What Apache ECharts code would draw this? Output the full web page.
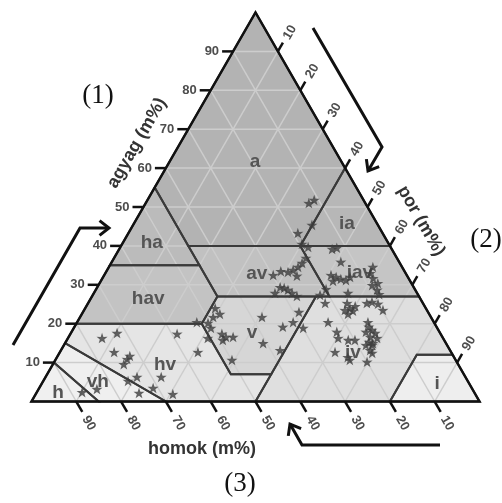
<!DOCTYPE html>
<html>
<head>
<meta charset="utf-8">
<script src="https://cdn.jsdelivr.net/npm/echarts@6/dist/echarts.min.js"></script>
<style>
html,body{margin:0;padding:0;background:#fff}
#chart{width:502px;height:503px}
</style>
</head>
<body>
<div id="chart"></div>
<script>
// textúraosztályok (USDA határok), csúcsok: [agyag, por]
const classNames = ['a', 'ia', 'ha', 'av', 'iav', 'hav', 'v', 'iv', 'i', 'hv', 'vh', 'h'];
const classPolys = [
  [[60, 40], [100, 0], [55, 0], [40, 15], [40, 40]],
  [[60, 40], [40, 40], [40, 60]],
  [[55, 0], [35, 0], [35, 20]],
  [[40, 15], [40, 40], [27, 53], [27, 28]],
  [[40, 40], [40, 60], [27, 73], [27, 53]],
  [[35, 0], [35, 20], [27, 28], [20, 28], [20, 0]],
  [[27, 28], [27, 50], [7, 50], [7, 41], [20, 28]],
  [[27, 50], [27, 73], [12, 88], [12, 80], [0, 80], [0, 50]],
  [[12, 80], [12, 88], [0, 100], [0, 80]],
  [[20, 0], [20, 28], [7, 41], [7, 50], [0, 50], [0, 30], [15, 0]],
  [[15, 0], [0, 30], [0, 15], [10, 0]],
  [[10, 0], [0, 15], [0, 0]]
];
const classLabelAt = [
  [61.6, 19.1], [45.6, 47.6], [40.7, 6.5], [32.8, 33.9], [33.0, 56.8], [26.3, 12.9],
  [17.6, 40.4], [12.5, 65.5], [4.5, 88.3], [9.4, 25.1], [5.0, 12.3], [2.2, 4.8]
];
const tickValues = [10, 20, 30, 40, 50, 60, 70, 80, 90];

// minták: agyag (m%) és por (m%), homok = 100 - agyag - por
const starClay = [
  51.0, 51.8, 45.4, 43.3, 40.5, 39.7, 39.2, 39.5, 35.9,
  32.5, 33.5, 33.3, 33.8, 34.6, 35.6, 32.3, 36.9,
  27.9, 29.4, 29.2, 28.7, 27.9, 27.1,
  32.5, 32.0, 31.5, 31.2, 32.0, 31.0, 33.0, 31.7, 29.9, 30.4, 28.7, 27.6, 34.6, 28.9, 27.4, 27.9,
  25.3, 23.5, 24.0, 23.3, 22.5, 24.5, 25.3, 25.6, 25.1, 23.5, 25.3, 20.4, 18.9,
  17.9, 16.3, 15.8, 15.8, 12.7, 11.4, 10.7, 10.2,
  20.4, 19.2, 17.9, 18.4, 17.6, 16.6, 16.3, 15.3, 15.0, 13.2, 12.5, 14.5, 14.5,
  24.0, 22.5, 21.7, 20.4, 20.2, 18.9, 17.4, 16.6, 16.6, 15.8, 16.3, 12.7, 10.7,
  21.7, 19.2, 15.0, 13.2, 20.4, 23.0,
  16.3, 17.6, 12.7, 10.9, 11.7, 9.6, 17.4, 6.3, 6.3, 3.5, 5.3, 2.2, 1.9, 3.2, 2.4
];
const starSilt = [
  36.4, 37.2, 39.9, 37.8, 40.1, 41.9, 47.5, 48.4, 51.1,
  37.7, 38.9, 40.6, 41.5, 42.2, 42.6, 43.1, 42.8,
  40.4, 40.8, 41.8, 42.9, 44.2, 45.7,
  50.6, 52.0, 53.3, 54.6, 55.1, 51.8, 59.1, 60.4, 61.1, 62.1, 62.8, 63.8, 58.9, 51.3, 50.7, 56.7,
  57.8, 58.2, 59.1, 60.1, 59.4, 60.0, 62.2, 63.2, 64.8, 66.7, 52.9, 56.0, 51.2,
  59.2, 60.3, 62.8, 64.3, 61.4, 64.9, 65.7, 69.8,
  64.9, 65.7, 65.7, 66.8, 67.9, 67.3, 69.0, 67.7, 68.7, 69.0, 69.8, 67.4, 68.8,
  29.0, 30.8, 29.7, 26.7, 29.3, 30.6, 33.8, 35.1, 36.7, 34.8, 31.2, 30.8, 39.4,
  40.6, 46.5, 44.2, 48.9, 48.2, 48.2,
  7.6, 10.3, 12.1, 15.9, 16.1, 15.8, 23.8, 20.4, 25.8, 25.4, 18.9, 22.9, 30.6, 13.0, 10.1
];

const classColors = ['#b3b3b3', '#b7b7b7', '#bbbbbb', '#c1c1c1', '#c5c5c5', '#c3c3c3',
  '#d6d6d6', '#dfdfdf', '#eeeeee', '#e5e5e5', '#efefef', '#f0f0f0'];

// háromszög helye a képen (px)
const OX = 31.5, OY = 401.5, SX = 4.48, SY = 3.89;
const W = 502, H = 503;

function tern(clay, silt) {
  return [silt + clay / 2, clay];
}

const chart = echarts.init(document.getElementById('chart'));

const sansBold = 'bold 13px "Liberation Sans", Arial, sans-serif';
const titleFont = 'bold 18px "Liberation Sans", Arial, sans-serif';
const serifFont = '27px "Liberation Serif", "Times New Roman", serif';
const tickColor = '#4d4d4d';
const D60 = [0.5, 0.866];

function seg(p, q, color, width) {
  return {type: 'line', shape: {x1: p[0], y1: p[1], x2: q[0], y2: q[1]},
    style: {stroke: color, lineWidth: width, lineCap: 'butt'}};
}
function txt(x, y, text, font, fill, rot, align) {
  return {type: 'text', x: x, y: y, rotation: rot || 0,
    style: {text: text, font: font, fill: fill, align: align || 'center', verticalAlign: 'middle'}};
}

function arrowEls(pts) {
  const n = pts.length;
  const t = pts[n - 1], s = pts[n - 2];
  let dx = t[0] - s[0], dy = t[1] - s[1];
  const len = Math.sqrt(dx * dx + dy * dy);
  dx /= len; dy /= len;
  const a = 38 * Math.PI / 180, L = 12;
  const arm = function (sign) {
    const c = Math.cos(sign * a), sn = Math.sin(sign * a);
    const rx = dx * c - dy * sn, ry = dx * sn + dy * c;
    return [t[0] - rx * L, t[1] - ry * L];
  };
  return [
    {type: 'polyline', shape: {points: pts}, style: {stroke: '#111', lineWidth: 3, fill: null, lineJoin: 'miter'}},
    {type: 'polyline', shape: {points: [arm(1), t, arm(-1)]}, style: {stroke: '#111', lineWidth: 3, fill: null, lineJoin: 'miter'}}
  ];
}

const option = {
  animation: false,
  grid: {left: 0, right: 0, top: 0, bottom: 0},
  xAxis: {type: 'value', min: -OX / SX, max: (W - OX) / SX, show: false},
  yAxis: {type: 'value', min: -(H - OY) / SY, max: OY / SY, show: false},
  graphic: [
    ...arrowEls([[13, 345], [80, 228], [109, 228]]),
    ...arrowEls([[313, 28], [382, 147], [368, 171]]),
    ...arrowEls([[440, 445], [302, 445], [290, 424]]),
    txt(137, 143, 'agyag (m%)', titleFont, '#333', Math.PI / 3),
    txt(421, 221, 'por (m%)', titleFont, '#333', -Math.PI / 3),
    txt(202, 449, 'homok (m%)', titleFont, '#333', 0),
    txt(98, 96, '(1)', serifFont, '#111', 0),
    txt(486, 240, '(2)', serifFont, '#111', 0),
    txt(240, 484, '(3)', serifFont, '#111', 0)
  ].map(function (e) { e.z = 100; return e; }),
  series: [
    {
      // osztályok kitöltése
      type: 'custom', z: 1, silent: true, clip: false,
      data: classNames.map(function () { return [0, 0]; }),
      renderItem: function (params, api) {
        const pts = classPolys[params.dataIndex].map(function (p) { return api.coord(tern(p[0], p[1])); });
        return {type: 'polygon', shape: {points: pts}, style: {fill: classColors[params.dataIndex]}};
      }
    },
    {
      // rácsvonalak
      type: 'custom', z: 2, silent: true, clip: false,
      data: tickValues.map(function () { return [0, 0]; }),
      renderItem: function (params, api) {
        const k = tickValues[params.dataIndex];
        const P = function (c, s) { return api.coord(tern(c, s)); };
        const col = '#cdcdcd';
        return {type: 'group', children: [
          seg(P(k, 0), P(k, 100 - k), col, 1.5),
          seg(P(0, k), P(100 - k, k), col, 1.5),
          seg(P(0, 100 - k), P(100 - k, 0), col, 1.5)
        ]};
      }
    },
    {
      // osztályhatárok
      type: 'custom', z: 3, silent: true, clip: false,
      data: classNames.map(function () { return [0, 0]; }),
      renderItem: function (params, api) {
        const pts = classPolys[params.dataIndex].map(function (p) { return api.coord(tern(p[0], p[1])); });
        return {type: 'polygon', shape: {points: pts}, style: {fill: null, stroke: '#3a3a3a', lineWidth: 2}};
      }
    },
    {
      // keret
      type: 'custom', z: 4, silent: true, clip: false,
      data: [[0, 0]],
      renderItem: function (params, api) {
        const pts = [[0, 0], [0, 100], [100, 0]].map(function (p) { return api.coord(tern(p[0], p[1])); });
        return {type: 'polygon', shape: {points: pts}, style: {fill: null, stroke: '#111', lineWidth: 2.5, lineJoin: 'miter'}};
      }
    },
    {
      // tengelyjelek és feliratok
      type: 'custom', z: 4, silent: true, clip: false,
      data: tickValues.map(function () { return [0, 0]; }),
      renderItem: function (params, api) {
        const k = tickValues[params.dataIndex];
        const l = api.coord(tern(k, 0));
        const r = api.coord(tern(100 - k, k));
        const b = api.coord(tern(0, 100 - k));
        return {type: 'group', children: [
          seg([l[0] - 11, l[1]], l, '#111', 2.5),
          txt(l[0] - 14, l[1], String(k), sansBold, tickColor, 0, 'right'),
          seg(r, [r[0] + D60[0] * 10, r[1] - D60[1] * 10], '#111', 2.5),
          txt(r[0] + D60[0] * 22 + 1, r[1] - D60[1] * 22, String(k), sansBold, tickColor, Math.PI / 3),
          seg(b, [b[0] + D60[0] * 12, b[1] + D60[1] * 12], '#111', 2.5),
          txt(b[0] + D60[0] * 25, b[1] + D60[1] * 25, String(k), sansBold, tickColor, -Math.PI / 3)
        ]};
      }
    },
    {
      // osztálynevek
      type: 'custom', z: 5, silent: true, clip: false,
      data: classNames.map(function () { return [0, 0]; }),
      renderItem: function (params, api) {
        const at = classLabelAt[params.dataIndex];
        const p = api.coord(tern(at[0], at[1]));
        return txt(p[0], p[1], classNames[params.dataIndex], 'bold 19px "Liberation Sans", Arial, sans-serif', '#555', 0);
      }
    },
    {
      type: 'scatter', z: 6, silent: true,
      symbol: 'path://M50,0 L61.8,35.1 L97.6,34.5 L69.1,56.9 L79.4,90.5 L50,70 L20.6,90.5 L30.9,56.9 L2.4,34.5 L38.2,35.1 Z',
      symbolSize: [11, 10.5],
      itemStyle: {color: '#3d3d3d'},
      data: starClay.map(function (c, i) { return tern(c, starSilt[i]); })
    }
  ]
};
chart.setOption(option);
</script>
</body>
</html>
